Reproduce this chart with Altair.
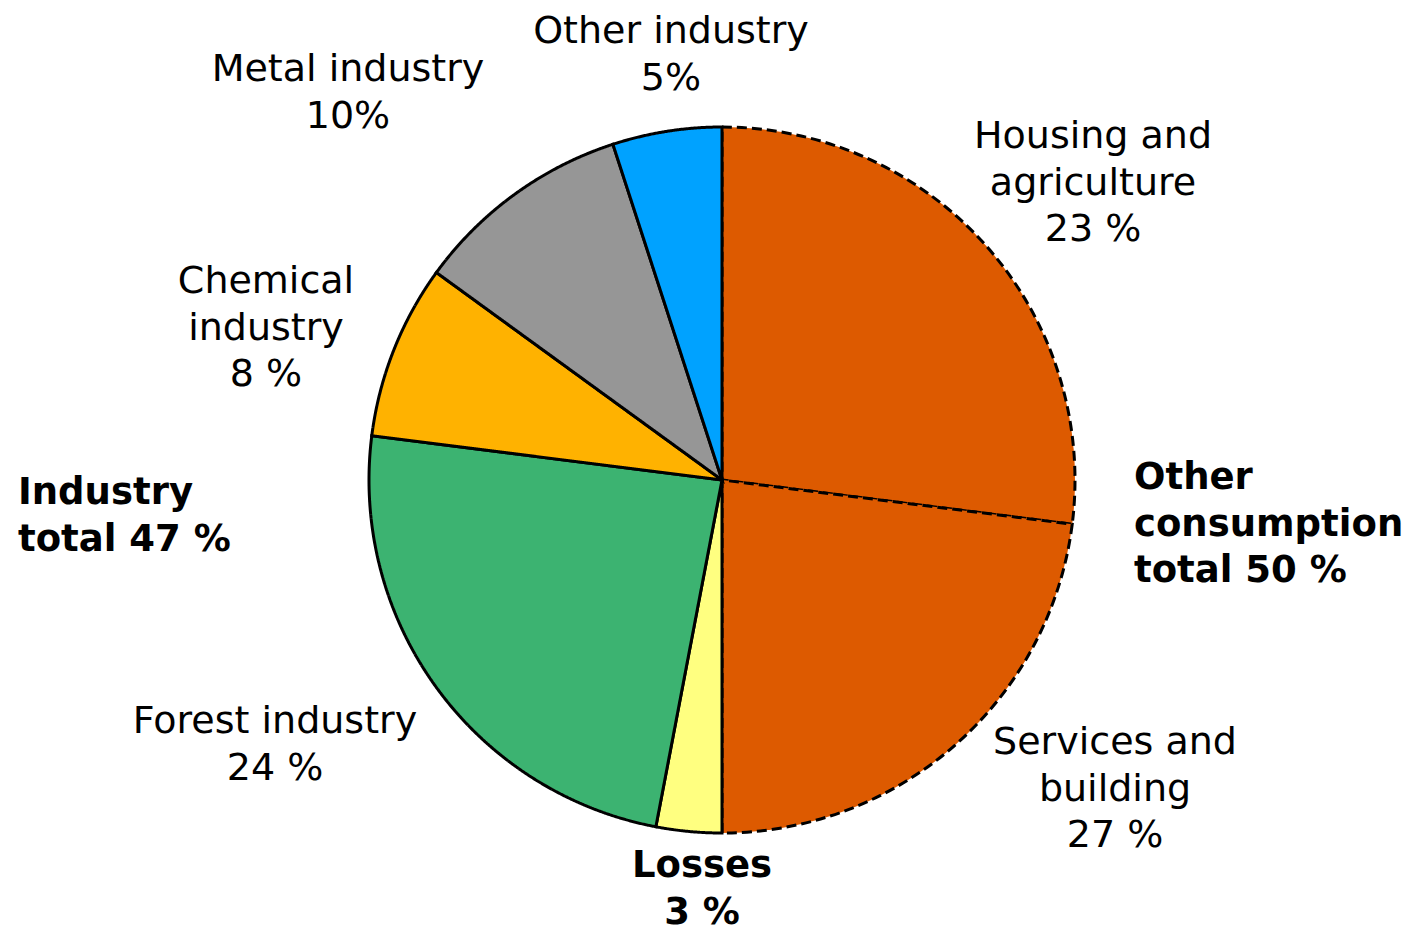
import altair as alt
import pandas as pd

# data
sectors = ["Housing and agriculture", "Services and building", "Losses",
           "Forest industry", "Chemical industry", "Metal industry", "Other industry"]
values = [27, 23, 3, 24, 8, 10, 5]
colors = ["#DD5A00", "#DD5A00", "#FFFF80", "#3CB371", "#FFB200", "#969696", "#00A2FF"]
groups = ["other", "other", "loss", "industry", "industry", "industry", "industry"]

label_texts = [
    "Housing and\nagriculture\n23 %",
    "Services and\nbuilding\n27 %",
    "Losses\n3 %",
    "Forest industry\n24 %",
    "Chemical\nindustry\n8 %",
    "Metal industry\n10%",
    "Other industry\n5%",
    "Industry\ntotal 47 %",
    "Other\nconsumption\ntotal 50 %",
]
label_bold = [False, False, True, False, False, False, False, True, True]
label_align = ["center"] * 7 + ["left", "left"]

# label placement: first-line offsets from pie centre (pixels, y downward)
R = 353.0
label_dx = [371, 393, -20, -447, -456, -374, -51, -704, 412]
label_dy = [-343, 263, 386, 242, -198, -410, -448, 13, -2]

W, H = 1400, 922
CX, CY = 714, 472  # pie centre within plot area

pie_df = pd.DataFrame({
    "sector": sectors,
    "value": values,
    "idx": list(range(len(sectors))),
    "dash": ["dashed" if g == "other" else "solid" for g in groups],
})

lab_df = pd.DataFrame({
    "text": label_texts,
    "lx": [d / R for d in label_dx],
    "ly": [-d / R for d in label_dy],
    "bold": label_bold,
    "align": label_align,
})

xscale = alt.Scale(domain=[-CX / R, (W - CX) / R], nice=False, zero=False)
yscale = alt.Scale(domain=[-(H - CY) / R, CY / R], nice=False, zero=False)
tscale = alt.Scale(domain=[0, sum(values)], nice=False, zero=True)

base = alt.Chart(pie_df).transform_window(
    end="sum(value)", sort=[alt.SortField("idx")], frame=[None, 0]
).transform_calculate(
    start="datum.end - datum.value", cx="0", cy="0"
)

def arc_layer(kind, dash):
    return base.transform_filter(alt.datum.dash == kind).mark_arc(
        radius=R, strokeWidth=3, stroke="black", strokeDash=dash
    ).encode(
        x=alt.X("cx:Q", scale=xscale, axis=None),
        y=alt.Y("cy:Q", scale=yscale, axis=None),
        theta=alt.Theta("start:Q", scale=tscale),
        theta2="end:Q",
        color=alt.Color("sector:N", scale=alt.Scale(domain=sectors, range=colors), legend=None),
    )

def text_layer(df, bold, align):
    return alt.Chart(df).mark_text(
        font="DejaVu Sans", fontSize=37 if bold else 38, fontWeight="bold" if bold else "normal",
        lineBreak="\n", lineHeight=46.5, align=align, baseline="middle", color="black",
    ).encode(
        x=alt.X("lx:Q", scale=xscale, axis=None),
        y=alt.Y("ly:Q", scale=yscale, axis=None),
        text="text:N",
    )

layers = [arc_layer("dashed", [10, 5]), arc_layer("solid", [1, 0])]
for b in [False, True]:
    for a in ["center", "left"]:
        sub = lab_df[(lab_df["bold"] == b) & (lab_df["align"] == a)]
        if len(sub):
            layers.append(text_layer(sub, b, a))

chart = alt.layer(*layers).properties(
    width=W, height=H, autosize=alt.AutoSizeParams(type="none"), padding=0,
).configure_view(stroke=None)

chart.save("out.html", embed_options={"renderer": "svg", "actions": False})
